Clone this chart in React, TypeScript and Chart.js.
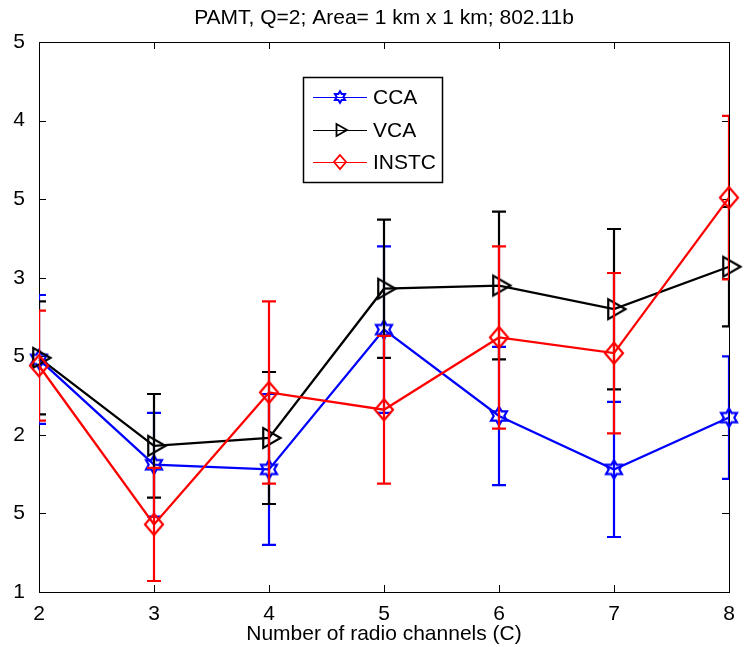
import React, { useEffect, useRef } from 'react';
import { Chart, registerables } from 'chart.js';

Chart.register(...registerables);

// ---- data ----
const channels = [2, 3, 4, 5, 6, 7, 8];
const xTickLabels = ['2', '3', '4', '5', '6', '7', '8'];
const yTickValues = [1, 1.5, 2, 2.5, 3, 3.5, 4, 4.5];
const yTickLabels = ['1', '5', '2', '5', '3', '5', '4', '5'];

const seriesNames = ['CCA', 'VCA', 'INSTC'];
const ccaMean = [2.48, 1.81, 1.78, 2.67, 2.12, 1.78, 2.11];
const ccaErr = [0.41, 0.33, 0.48, 0.53, 0.44, 0.43, 0.39];
const vcaMean = [2.49, 1.93, 1.98, 2.93, 2.95, 2.8, 3.07];
const vcaErr = [0.36, 0.33, 0.42, 0.44, 0.47, 0.51, 0.38];
const instcMean = [2.44, 1.43, 2.27, 2.16, 2.62, 2.52, 3.51];
const instcErr = [0.35, 0.36, 0.58, 0.47, 0.58, 0.51, 0.52];

const titleText = 'PAMT, Q=2; Area= 1 km x 1 km; 802.11b';
const xAxisTitle = 'Number of radio channels (C)';

const FONT = '"Liberation Sans", Arial, Helvetica, sans-serif';
const FS = 21;

type Kind = 'hexagram' | 'triangle' | 'diamond';

function tracePath(ctx: CanvasRenderingContext2D, kind: Kind, cx: number, cy: number, size: number) {
  ctx.beginPath();
  if (kind === 'hexagram') {
    for (let k = 0; k < 12; k++) {
      const ang = -Math.PI / 2 + (k * Math.PI) / 6;
      const r = k % 2 === 0 ? size : size / Math.sqrt(3);
      const px = cx + r * Math.cos(ang);
      const py = cy + r * Math.sin(ang);
      if (k === 0) ctx.moveTo(px, py);
      else ctx.lineTo(px, py);
    }
  } else if (kind === 'triangle') {
    const s60 = Math.sin(Math.PI / 3);
    ctx.moveTo(cx + size, cy);
    ctx.lineTo(cx - size / 2, cy - size * s60);
    ctx.lineTo(cx - size / 2, cy + size * s60);
  } else {
    const w = size * 0.86;
    ctx.moveTo(cx, cy - size);
    ctx.lineTo(cx + w, cy);
    ctx.lineTo(cx, cy + size);
    ctx.lineTo(cx - w, cy);
  }
  ctx.closePath();
}

function makeMarker(kind: Kind, color: string, size: number, lw: number) {
  const c = document.createElement('canvas');
  const half = Math.ceil(size + lw + 3);
  c.width = half * 2;
  c.height = half * 2;
  const ctx = c.getContext('2d')!;
  tracePath(ctx, kind, half, half, size);
  ctx.lineWidth = lw;
  ctx.strokeStyle = color;
  ctx.lineJoin = 'miter';
  ctx.stroke();
  return c;
}

const errorBarPlugin = {
  id: 'errorBars',
  beforeDatasetDraw(chart: any, args: any) {
    const ds = chart.data.datasets[args.index];
    const errs: number[] = ds.errors;
    if (!errs) return;
    const { ctx, chartArea } = chart;
    const xs = chart.scales.x;
    const ys = chart.scales.y;
    ctx.save();
    ctx.beginPath();
    ctx.rect(chartArea.left, chartArea.top, chartArea.right - chartArea.left, chartArea.bottom - chartArea.top);
    ctx.clip();
    ctx.strokeStyle = ds.borderColor;
    ctx.lineWidth = 2.2;
    ds.data.forEach((p: any, i: number) => {
      const x = xs.getPixelForValue(p.x);
      const yT = ys.getPixelForValue(p.y + errs[i]);
      const yB = ys.getPixelForValue(p.y - errs[i]);
      ctx.beginPath();
      ctx.moveTo(x, yT);
      ctx.lineTo(x, yB);
      ctx.moveTo(x - 7, yT);
      ctx.lineTo(x + 7, yT);
      ctx.moveTo(x - 7, yB);
      ctx.lineTo(x + 7, yB);
      ctx.stroke();
    });
    ctx.restore();
  },
};

const framePlugin = {
  id: 'frame',
  beforeDatasetsDraw(chart: any) {
    const { ctx, chartArea } = chart;
    const { left, right, top, bottom } = chartArea;
    const xs = chart.scales.x;
    const ys = chart.scales.y;
    ctx.save();
    ctx.strokeStyle = '#000';
    ctx.lineWidth = 1;
    ctx.strokeRect(Math.round(left) + 0.5, Math.round(top) + 0.5, Math.round(right - left), Math.round(bottom - top));
    ctx.beginPath();
    channels.forEach((v) => {
      const x = Math.round(xs.getPixelForValue(v)) + 0.5;
      ctx.moveTo(x, bottom);
      ctx.lineTo(x, bottom - 7);
      ctx.moveTo(x, top);
      ctx.lineTo(x, top + 7);
    });
    yTickValues.forEach((v) => {
      const y = Math.round(ys.getPixelForValue(v)) + 0.5;
      ctx.moveTo(left, y);
      ctx.lineTo(left + 7, y);
      ctx.moveTo(right, y);
      ctx.lineTo(right - 7, y);
    });
    ctx.stroke();
    ctx.restore();
  },
};

const legendPlugin = {
  id: 'boxLegend',
  afterDraw(chart: any) {
    const { ctx } = chart;
    const bx = 303, by = 77, bw = 139, bh = 105;
    ctx.save();
    ctx.fillStyle = '#fff';
    ctx.fillRect(bx, by, bw, bh);
    ctx.strokeStyle = '#000';
    ctx.lineWidth = 1.5;
    ctx.strokeRect(bx + 0.5, by + 0.5, bw, bh);
    const rows = [97, 130, 162];
    chart.data.datasets.forEach((ds: any, i: number) => {
      const y = rows[i];
      ctx.strokeStyle = ds.borderColor;
      ctx.lineWidth = 1;
      ctx.beginPath();
      ctx.moveTo(313, y + 0.5);
      ctx.lineTo(367, y + 0.5);
      ctx.stroke();
      const lk = ds.legendMarker;
      tracePath(ctx, lk.kind, 340, y, lk.size);
      ctx.lineWidth = lk.lw;
      ctx.stroke();
      ctx.fillStyle = '#000';
      ctx.font = `${FS}px ${FONT}`;
      ctx.textBaseline = 'middle';
      ctx.textAlign = 'left';
      ctx.fillText(ds.label, 373, y + 1);
    });
    ctx.restore();
  },
};

export default function App() {
  const ref = useRef<HTMLCanvasElement | null>(null);

  useEffect(() => {
    document.body.style.margin = '0';
    const canvas = ref.current;
    if (!canvas) return;

    const mk = (xs: number[], ys: number[]) => xs.map((x, i) => ({ x, y: ys[i] }));

    const datasets: any[] = [
      {
        label: seriesNames[0],
        data: mk(channels, ccaMean),
        errors: ccaErr,
        borderColor: '#0000ff',
        pointStyle: makeMarker('hexagram', '#0000ff', 9.2, 2.2),
        legendMarker: { kind: 'hexagram', size: 5.8, lw: 2 },
        order: 2,
      },
      {
        label: seriesNames[1],
        data: mk(channels, vcaMean),
        errors: vcaErr,
        borderColor: '#000000',
        pointStyle: makeMarker('triangle', '#000000', 11.5, 2.2),
        legendMarker: { kind: 'triangle', size: 7, lw: 1.8 },
        order: 1,
      },
      {
        label: seriesNames[2],
        data: mk(channels, instcMean),
        errors: instcErr,
        borderColor: '#ff0000',
        pointStyle: makeMarker('diamond', '#ff0000', 10.5, 2.2),
        legendMarker: { kind: 'diamond', size: 7, lw: 1.8 },
        order: 0,
      },
    ].map((d) => ({
      ...d,
      type: 'line',
      borderWidth: 2.3,
      tension: 0,
      fill: false,
      showLine: true,
      clip: false,
      pointRadius: 10,
      pointHoverRadius: 10,
      backgroundColor: d.borderColor,
    }));

    const chart = new Chart(canvas, {
      type: 'line',
      data: { datasets },
      options: {
        responsive: false,
        animation: false,
        events: [],
        layout: { padding: { left: 0, right: 17, top: 0, bottom: 0 } },
        plugins: {
          legend: { display: false },
          tooltip: { enabled: false },
          title: {
            display: true,
            fullSize: false,
            text: titleText,
            color: '#000',
            font: { family: FONT, size: FS, weight: 'normal' },
            padding: { top: 6, bottom: 10.8 },
          },
        },
        scales: {
          x: {
            type: 'linear',
            min: 2,
            max: 8,
            afterBuildTicks: (s: any) => {
              s.ticks = channels.map((v) => ({ value: v }));
            },
            ticks: {
              autoSkip: false,
              maxRotation: 0,
              padding: 2,
              color: '#000',
              font: { family: FONT, size: FS },
              callback: (_v: any, i: number) => xTickLabels[i],
            },
            grid: { display: false },
            border: { display: false },
            title: {
              display: true,
              text: xAxisTitle,
              color: '#000',
              font: { family: FONT, size: FS },
              padding: { top: 0, bottom: 0 },
            },
            afterFit: (s: any) => {
              s.height = 55;
            },
          },
          y: {
            type: 'linear',
            min: 1,
            max: 4.5,
            afterBuildTicks: (s: any) => {
              s.ticks = yTickValues.map((v) => ({ value: v }));
            },
            ticks: {
              autoSkip: false,
              padding: 6,
              color: '#000',
              font: { family: FONT, size: FS },
              callback: (_v: any, i: number) => yTickLabels[i],
            },
            grid: { display: false },
            border: { display: false },
            afterFit: (s: any) => {
              s.width = 39;
            },
          },
        },
      } as any,
      plugins: [framePlugin, errorBarPlugin, legendPlugin],
    });

    return () => chart.destroy();
  }, []);

  return <canvas ref={ref} width={746} height={647} style={{ display: 'block' }} />;
}
